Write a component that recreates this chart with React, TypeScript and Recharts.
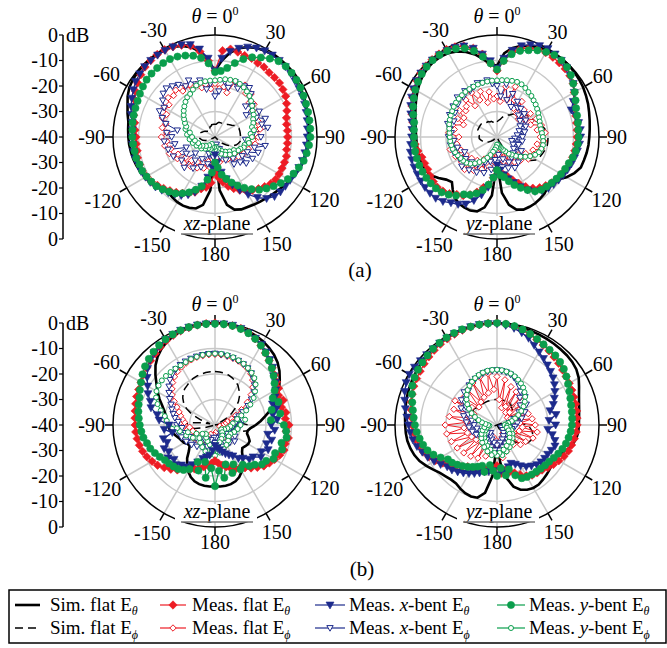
import React from 'react'
import { RadarChart, Radar, PolarGrid, PolarAngleAxis, PolarRadiusAxis } from 'recharts'

// theta in degrees, 0 at top, clockwise; 185..355 are -175..-5
const angles = [0, 5, 10, 15, 20, 25, 30, 35, 40, 45, 50, 55, 60, 65, 70, 75, 80, 85, 90, 95, 100, 105, 110, 115, 120, 125, 130, 135, 140, 145, 150, 155, 160, 165, 170, 175, 180, 185, 190, 195, 200, 205, 210, 215, 220, 225, 230, 235, 240, 245, 250, 255, 260, 265, 270, 275, 280, 285, 290, 295, 300, 305, 310, 315, 320, 325, 330, 335, 340, 345, 350, 355]
const spokes = [0, 30, 60, 90, 120, 150, 180, 210, 240, 270, 300, 330]
const dbLabels = ['0', '-10', '-20', '-30', '-40', '-30', '-20', '-10', '0']

// (a) xz-plane
const xzA_simT = [-14, -10, -6.5, -4, -2.5, -1.5, -1, -0.6, -0.5, -0.5, -0.7, -1, -1.3, -1.7, -2, -2.4, -2.7, -2.9, -3.1, -3.3, -3.6, -4, -4.5, -5.2, -6, -6.8, -7.6, -8.2, -8.7, -9.1, -9.4, -9.7, -9.8, -10.5, -13, -19, -34,
  -19, -13, -11, -10.5, -10.3, -10.5, -11, -11.5, -11, -10, -9.2, -8.5, -7.8, -7.2, -6.8, -6.5, -6.2, -6, -5.8, -5.5, -4.5, -3.5, -2.2, -1.2, -0.7, -0.4, -0.3, -0.3, -0.4, -0.6, -1, -2, -3.5, -6, -10]
const xzA_simP = [-35, -35, -34.5, -34, -34, -34, -34, -34, -33.5, -33, -32.5, -32, -31, -30.5, -30, -30, -30, -30, -30, -30, -30, -30.5, -31, -32, -33, -34.5, -36, -38, -40, -40, -40, -40, -40, -40, -40, -40, -40,
  -40, -40, -40, -40, -40, -40, -40, -40, -40, -40, -40, -39, -37.5, -36, -35, -34.5, -34, -34, -34, -34, -34, -34.5, -35, -35.5, -36, -36.5, -37, -37, -36.5, -36, -35.5, -35.5, -35, -35, -35]
const xzA_flatT = [-14, -6, -5, -5.5, -6, -6, -6.5, -6.5, -7, -7, -7, -7.5, -8, -9, -10, -11, -11.5, -11.5, -11.5, -11.5, -11.5, -11, -11, -11, -11, -11, -11.5, -12.5, -13.5, -14.5, -16, -17, -18.5, -20, -22, -24, -26,
  -22, -20, -19, -17, -15.5, -14.5, -13.5, -12.5, -11.5, -10.5, -9.5, -9, -8.5, -8.5, -8.5, -9, -9, -9, -8.5, -8, -7, -6, -5, -4, -3, -2, -1.2, -0.8, -0.5, -0.5, -1, -1.7, -3, -6, -10]
const xzA_flatP = [-19, -21, -20, -22, -17, -18, -16.5, -19, -18, -21, -20, -22, -21, -23, -22, -24, -22, -24, -23, -25, -24, -27, -26, -28, -27, -30, -28, -31, -29, -32, -30, -33, -31, -34, -30, -32, -30,
  -31, -28, -30, -27, -29, -26, -28, -25, -27, -24, -26, -23, -24, -21, -22, -20, -21, -19, -21, -19, -20, -18, -19, -17, -18, -16, -17, -16, -18, -17, -19, -18, -20, -19, -21]
const xzA_xT = [-14, -9, -6, -4, -2.5, -1.5, -1, -0.8, -0.8, -1, -1.3, -1.7, -2, -2.3, -2.6, -3, -3.3, -3.6, -3.8, -4, -4.2, -4.5, -5, -5.5, -6, -6.3, -6.5, -7, -8.5, -11, -14, -17, -20, -23, -26, -30, -33,
  -28, -24, -20, -17, -15, -13.5, -12.5, -11.5, -10.5, -9.5, -9, -8.5, -8, -8, -7.5, -7.5, -7.5, -7.5, -7.5, -7, -6, -5, -4, -3, -2, -1.5, -1, -0.8, -0.8, -0.8, -1, -1.5, -2.5, -5, -9]
const xzA_xP = [-24, -22, -18, -20, -17, -19, -17, -16.5, -18, -23, -21, -25, -20, -22, -19, -21, -19, -25, -22, -28, -20, -24, -22, -26, -23, -27, -24, -26, -29, -27, -33, -30, -35, -32, -37, -34, -36,
  -32, -35, -29, -33, -27, -30, -25, -28, -23, -30, -24, -27, -22, -28, -21, -24, -20, -23, -21, -25, -20, -18, -16, -17, -15, -13.5, -13, -14, -15, -17, -15.5, -18, -17, -21, -19]
const xzA_yT = [-14.5, -14, -12.5, -10, -7.5, -5.5, -4, -2.5, -1.2, -0.8, -0.8, -1, -1.3, -1.7, -2, -2.2, -2.4, -2.5, -2.6, -3, -3.5, -4, -5, -6, -7, -8.5, -10, -11.5, -13, -15, -17, -19, -21, -23, -25, -28, -30,
  -26, -23, -20, -18, -16, -14.5, -13, -12, -11, -10, -9.5, -9, -8.5, -8.5, -8, -8, -7.8, -7.6, -7.5, -7.2, -7, -6.8, -6.5, -6, -5.5, -5, -4.8, -4.7, -4.6, -4.7, -5.2, -6, -7, -8.5, -11]
const xzA_yP = [-17.8, -17.5, -17, -16.8, -16.6, -17, -17.5, -18.2, -19, -20, -21, -22, -22.5, -23.5, -24, -25, -24.5, -26, -25.5, -27, -26.5, -28, -28, -29, -29.5, -31, -30, -32, -31, -33, -32, -34, -33, -35, -34, -36, -35,
  -36, -34, -36, -35, -37, -35, -36, -34, -35, -33, -34, -33, -32, -33, -31, -32, -30, -31, -29, -30, -28, -28, -27, -26, -25, -24, -23, -22, -21, -20.5, -19.5, -18.5, -18, -17.8, -17.8]

// (a) yz-plane
const yzA_simT = [-12, -7, -4.5, -3, -2, -1.2, -0.6, -0.3, -0.2, -0.2, -0.4, -0.7, -1, -1.5, -2, -2.6, -3.1, -3.5, -3.8, -4, -4.3, -4.7, -5, -6.5, -8.5, -11, -12.5, -12, -11, -10.5, -10, -9.8, -9.7, -10.5, -13, -18, -30,
  -17, -12, -9.8, -9.3, -9.5, -10, -11, -13, -15, -14, -12, -10, -9, -8.8, -8.6, -8.5, -8.4, -8.3, -8, -7.5, -6.8, -6, -5, -4, -3, -2.2, -1.6, -1.4, -1.5, -2, -3, -4.5, -6.5, -9, -11.5]
const yzA_simP = [-34, -33.5, -33, -32, -31, -30.5, -30, -29, -28, -27, -26, -25.5, -25, -24, -23, -22, -21, -20.5, -20, -20, -20, -20.5, -21, -21.5, -22, -24, -26, -28.5, -31, -33.5, -36, -38, -40, -40, -40, -40, -40,
  -40, -40, -40, -40, -40, -40, -40, -40, -40, -38, -37, -36, -35, -34.5, -34, -33.5, -33, -33, -33, -32.5, -32.5, -32, -32, -32, -32, -32, -32.5, -32.5, -33, -33, -33.5, -33.5, -34, -34, -34]
const yzA_flatT = [-14, -10, -6, -4, -3, -2, -1.8, -1.8, -2, -2.2, -2.7, -3.5, -5, -6.5, -7.5, -8, -8.3, -8.5, -8.6, -8.8, -9, -9.3, -9.7, -10.2, -10.8, -11.2, -12, -13, -14, -15.5, -17.5, -20, -22, -24, -25, -26, -27,
  -24, -21, -19.5, -17, -15, -13.5, -12.5, -11, -10, -9.4, -9.5, -9.7, -10, -9.8, -9.5, -8.5, -7.8, -7.2, -7, -6.5, -5.5, -4.5, -3.5, -2.5, -1.7, -1, -0.6, -0.4, -0.3, -0.4, -1, -2, -4, -7, -11]
const yzA_flatP = [-24, -26, -20, -25, -19, -24, -27, -23, -28, -25, -29, -24, -27, -23, -26, -22, -24, -21, -23, -21.5, -24, -22, -25, -24, -27, -25, -29, -27, -31, -28, -33, -29, -34, -30, -35, -31, -34,
  -30, -34, -28, -32, -26, -30, -24, -28, -22, -27, -23, -26, -22, -25, -21, -24, -22, -25, -21, -23, -22, -26, -23, -25, -22, -24, -23, -21, -25, -20, -24, -21, -26, -22, -25]
const yzA_xT = [-13, -9, -5.5, -3, -1.5, -0.5, 0, -0.3, -0.8, -1.5, -2.5, -3.5, -5, -7, -9, -8, -7.5, -7.2, -7.2, -7.5, -8, -8.5, -9, -9.5, -10, -10.5, -11, -11.5, -12.5, -14, -16, -18.5, -21, -23, -25, -27, -29,
  -24, -20, -16.5, -13.5, -11, -9.5, -8.5, -7, -6, -5.7, -5.5, -5.5, -5.5, -5.4, -5.4, -5.5, -6, -6.5, -6.5, -6, -5, -4, -3, -2.2, -1.5, -1, -0.7, -0.6, -0.6, -0.8, -1.2, -2, -4, -7, -10]
const yzA_xP = [-20, -24, -19, -25, -22, -27, -24, -26, -25.5, -28, -26, -29, -27, -30, -28, -31, -29, -32, -30, -33, -30, -34, -31, -33, -29, -32, -28, -31, -27, -30, -26, -29, -27, -31, -28, -33, -30,
  -31, -27, -30, -25, -29, -24, -27, -23, -26, -22, -25, -23, -26, -22, -24, -21.5, -23, -21, -22, -21.3, -20, -22, -19.5, -21, -19, -20, -18, -19.5, -18, -19, -18.4, -17.5, -18, -17.4, -19]
const yzA_yT = [-13.5, -10, -7, -5, -3.8, -2.5, -1.5, -0.8, -0.7, -1.2, -2.2, -3.5, -4.8, -6, -7, -7.5, -7.8, -8, -8, -8.2, -8.6, -9.2, -10, -10.5, -11, -11.5, -12, -12.5, -13, -14, -16, -18, -20, -22, -24, -25, -27,
  -24, -21, -18.5, -16.5, -15, -14, -12, -10.5, -9.3, -8.7, -8.3, -8, -7.8, -7.6, -7.5, -7.4, -7.4, -7.4, -7.3, -7, -6, -5, -4, -3, -2.2, -1.5, -1, -0.7, -0.7, -1, -1.8, -3, -5, -8, -11]
const yzA_yP = [-17.8, -17.6, -17.4, -17.2, -17, -17.2, -17.8, -18.5, -19, -19.7, -20.2, -20.8, -21.3, -21.8, -22.2, -22.5, -22.5, -22.3, -22, -21.8, -21.7, -22, -22.5, -23.5, -25, -26.5, -28, -29.5, -31, -32, -33.5, -34.5, -35.5, -36, -36.5, -37, -37,
  -36, -35, -34, -32.5, -31, -29.5, -28, -26.5, -25.2, -24.3, -23.8, -23.5, -23, -22.5, -22, -21.8, -21.6, -21.5, -21.3, -21, -20.6, -20.3, -20, -19.7, -19.3, -19, -18.8, -18.6, -18.4, -18.3, -18.2, -18.1, -18, -17.9, -17.8]

// (b) xz-plane
const xzB_simT = [0, -0.1, -0.3, -0.6, -1, -1.5, -2.2, -3, -4, -5.3, -7, -9, -11, -13, -15, -17.5, -20, -22, -24, -26, -27, -27, -26, -25, -25, -25.5, -26, -25, -23, -21, -19, -17.5, -16.5, -16, -15.8, -15.8, -16,
  -15.8, -15.8, -16, -16.5, -17.5, -19, -21, -23, -25.5, -27, -27, -26, -25.5, -25, -24, -23, -22, -21.5, -21, -20.5, -19.5, -18, -16, -14, -12, -9.5, -7, -5, -3.5, -2.3, -1.5, -0.9, -0.5, -0.2, -0.1]
const xzB_simP = [-19, -19.1, -19.3, -19.7, -20.3, -21, -22, -23.5, -25, -27, -29.5, -32, -35, -38, -40, -40, -36, -30, -27, -26, -27, -30, -35, -40, -40, -40, -40, -40, -40, -40, -40, -40, -40, -40, -40, -40, -40,
  -40, -40, -40, -40, -40, -40, -40, -40, -40, -40, -40, -40, -40, -40, -36, -32, -29, -28, -30, -35, -38, -34, -30, -27, -25, -23.5, -22.3, -21.5, -21, -20.3, -19.8, -19.5, -19.3, -19.1, -19]
const xzB_flatT = [0, -0.3, -0.5, -0.8, -1.5, -2.7, -4, -5.5, -7, -8.3, -9.5, -10.5, -11.2, -12.5, -11.5, -13, -11.8, -12.3, -11, -12, -10.8, -11.5, -11.2, -12, -13, -14, -15, -16.5, -18, -19.5, -20.5, -21, -22, -23, -24, -25, -26,
  -25, -24, -23, -22, -21, -20, -19, -17, -15.5, -14, -12.5, -11.5, -10.5, -9.8, -9.3, -9, -8.8, -8.7, -8.5, -8.2, -7.8, -7.3, -7, -6.5, -5.7, -5, -4.3, -3.5, -2.6, -1.8, -1.2, -0.7, -0.4, -0.2, -0.1]
const xzB_flatP = [-12.3, -12.4, -12.6, -12.9, -13.3, -13.8, -14.5, -15.5, -17, -19, -21.5, -24.5, -28, -31, -33, -35, -33, -36, -34, -37, -35, -38, -35, -37, -34, -36, -33, -35, -32, -34, -31, -35, -32, -36, -33, -37, -34,
  -36, -33, -35, -32, -36, -33, -35, -32, -34, -31, -33, -30, -32, -30, -31, -29, -30, -28, -28, -27, -26, -25, -23.5, -21.5, -19.5, -18, -16.5, -15.3, -14.4, -13.7, -13.2, -12.8, -12.5, -12.4, -12.3]
const xzB_xT = [-0.3, -0.2, -0.3, -0.8, -1.5, -2.5, -3.5, -5, -6.5, -8, -10, -11, -12.5, -14, -16, -15, -17, -15.5, -18, -16.5, -19, -17, -18.5, -17, -19, -18, -20.5, -21, -23, -24, -26, -27, -28, -29, -30, -31, -32,
  -30, -28, -27, -26, -24, -22, -20, -19.5, -18, -19, -17.5, -19, -18, -20, -19, -23, -20, -22, -18, -17, -14, -13, -11, -9.5, -7.5, -5.5, -4, -3, -2, -1.3, -0.8, -0.5, -0.3, -0.2, -0.2]
const xzB_xP = [-12, -12.2, -12.5, -12.8, -13.2, -13.7, -14.3, -15.2, -16.5, -18, -20, -22.5, -25, -28, -30, -31, -29, -32, -30, -33, -31, -34, -32, -35, -31, -34, -30, -33, -31, -36, -32, -35, -31, -34, -32, -35, -33,
  -35, -32, -34, -31, -33, -30, -33, -29, -32, -28, -31, -27, -29, -26, -28, -25, -27, -25, -25.5, -24, -23, -22, -21, -19.5, -18, -16.5, -15, -14, -13.3, -12.8, -12.5, -12.3, -12.2, -12.1, -12]
const xzB_yT = [-0.3, -0.3, -0.5, -1, -1.7, -2.7, -4, -5.5, -7, -8.5, -10, -11.5, -13, -15, -13.5, -17, -14, -18, -13, -12, -11.5, -13, -12, -14, -13.5, -15.5, -16, -18, -19, -21, -20, -23, -20, -24, -19, -22, -16,
  -23, -19, -25, -21, -24, -20, -18.5, -17.5, -17, -16.5, -16, -15, -14, -13, -12.4, -11.5, -11, -10.5, -10, -9.5, -9, -8.5, -7.5, -6.5, -5.3, -4.2, -3.3, -2.5, -1.8, -1.2, -0.8, -0.5, -0.3, -0.2, -0.2]
const xzB_yP = [-12, -12, -12.2, -12.5, -13, -13.5, -14.2, -15, -16, -17.5, -19.5, -21.5, -24, -26.5, -29, -31, -28, -33, -30, -34, -31, -35, -32, -36, -33, -37, -33, -36, -32, -35, -31, -34, -30, -33, -29, -32, -28,
  -31, -28, -32, -29, -33, -30, -34, -31, -35, -32, -34, -30, -32, -28, -29, -26, -25, -22, -21, -20, -18, -16, -14.5, -13.5, -13, -12.8, -12.8, -12.9, -13, -13, -12.8, -12.5, -12.3, -12.1, -12]

// (b) yz-plane
const yzB_simT = [0, -0.1, -0.3, -0.5, -0.7, -0.9, -1, -1.1, -1.2, -1.3, -1.5, -2, -3, -4.5, -5.8, -6.7, -7.3, -7.7, -7.9, -8, -8.5, -9.5, -11, -13, -14, -13.5, -13, -12.5, -12, -11.5, -11.5, -12, -13, -15, -19, -25, -33,
  -20, -13, -10.5, -10.2, -10.5, -11.2, -12, -12, -11.5, -10.8, -9.5, -8, -6.5, -5.5, -4.8, -4.3, -4.1, -4, -3.8, -3.5, -3.2, -2.8, -2.5, -2.2, -1.9, -1.6, -1.3, -1, -0.8, -0.6, -0.4, -0.3, -0.2, -0.1, 0]
const yzB_simP = [-30, -30, -30, -30, -30, -30, -30, -30.5, -31, -31.5, -32, -33, -34, -36, -38, -40, -35, -31, -28, -27, -26, -25.5, -25, -25.5, -26, -27.5, -29, -31, -33, -35, -38, -40, -40, -40, -40, -40, -40,
  -40, -40, -40, -40, -40, -40, -40, -40, -40, -40, -40, -40, -40, -38, -36, -35, -34, -33.5, -33, -32, -31, -30, -29.5, -29, -29, -29.5, -30, -30, -30, -30, -30, -30, -30, -30, -30]
const yzB_flatT = [0, -0.3, -0.8, -1.5, -2.3, -3.1, -3.8, -4.5, -5.2, -5.8, -6.4, -6.9, -7.3, -7.6, -7.9, -8.1, -8.3, -8.5, -8.6, -8.8, -9.2, -9.7, -10.2, -11, -12, -13, -14, -15, -15.5, -16, -17, -18.5, -20, -21, -22, -21, -24,
  -22, -23, -22, -21.5, -21, -20.5, -20, -18.5, -17, -15.5, -14, -12.2, -10.5, -9.2, -8.4, -7.6, -7, -6.6, -6.3, -5.8, -5.2, -4.6, -4, -3.6, -3.2, -2.7, -2.2, -1.7, -1.3, -1, -0.7, -0.4, -0.2, -0.1, 0]
const yzB_flatP = [-21, -30, -22, -33, -24, -32, -25, -34, -26, -33, -28, -35, -29, -34, -27, -33, -26, -31, -25, -30, -24, -31, -25, -33, -27, -34, -28, -35, -30, -36, -31, -35, -29, -34, -27, -33, -28,
  -34, -29, -35, -27, -33, -25, -32, -24, -31, -23, -30, -22, -29, -21, -28, -20, -27, -19.7, -28, -21, -29, -22, -30, -21, -28, -23, -30, -22, -29, -21, -28, -20, -27, -19.5, -26]
const yzB_xT = [-0.3, -0.8, -1.5, -2.5, -3.8, -5.5, -7, -8.2, -9.3, -10.3, -11.3, -12.5, -13.8, -15.2, -16.5, -18.5, -16.5, -19.5, -17, -20, -18, -16.5, -15.8, -16.5, -17, -17.2, -17.5, -18, -19, -20, -21.5, -23, -24, -23, -21, -22, -20.5,
  -22, -21.5, -21, -20, -19, -18, -17, -16, -15, -14.5, -13, -11.5, -10, -8.8, -7.5, -6.5, -5.8, -5.3, -4.5, -3.5, -2.5, -1.5, -0.7, -0.3, -0.5, -0.8, -1, -1, -0.8, -0.6, -0.4, -0.2, -0.1, 0, -0.1]
const yzB_xP = [-18.5, -18.7, -19, -19.5, -20.3, -21.3, -22.5, -24, -26, -24.5, -28, -26, -30, -28, -33, -30, -35, -32, -36, -33, -37, -34, -37, -35, -38, -35, -37, -34, -36, -33, -35, -32, -34, -31, -33, -30, -32,
  -30, -33, -31, -34, -32, -35, -33, -36, -33, -35, -32, -34, -31, -33, -30, -32, -29, -31, -28, -30, -26.5, -28, -24.5, -26, -23, -24, -21.8, -22.5, -21, -20.5, -20, -19.5, -19, -18.8, -18.6]
const yzB_yT = [0, -0.2, -0.6, -1.2, -2, -2.8, -3.5, -4, -4.4, -5, -5.8, -6.8, -7.8, -8.7, -9.4, -9.9, -10.2, -10.4, -10.6, -11, -11.5, -12, -12.7, -13.5, -14.3, -15, -15.4, -15.8, -16.1, -16.3, -16.5, -17, -19, -22, -20, -23, -20,
  -22, -24, -21, -23, -22, -21, -20, -19, -18, -17, -16.5, -14.5, -12.5, -11, -10, -9.2, -8.4, -7.8, -7.2, -6.5, -5.6, -4.5, -3.4, -2.7, -2.2, -1.8, -1.4, -1, -0.7, -0.4, -0.2, -0.1, -0.1, 0, 0]
const yzB_yP = [-18.3, -18.4, -18.7, -19.1, -19.7, -20.4, -21.2, -22.1, -23.2, -24.4, -25.8, -27.3, -29, -30.8, -32.5, -34, -35.5, -36.5, -37, -36, -35, -36, -34, -35, -33, -34, -32, -33, -31, -32, -30, -31, -29, -30, -28, -29, -28,
  -29, -28, -30, -29, -31, -30, -32, -31, -33, -32, -34, -33, -35, -34, -36, -35, -37, -36.5, -35.5, -34, -32.5, -30.8, -29, -27.3, -25.8, -24.4, -23.2, -22.1, -21.2, -20.4, -19.7, -19.1, -18.7, -18.4, -18.3]

const RED = '#ed1c24'
const BLUE = '#1c2a8c'
const GREEN = '#0a9e4c'
const GRID = '#c8c8c8'
const SERIF = 'Liberation Serif, Tinos, DejaVu Serif, Times New Roman, serif'
const R = 102

const buildRows = (s: any) => angles.map((a, i) => ({
  ang: a,
  simT: s.simT[i], simP: s.simP[i],
  flatT: s.flatT[i], flatP: s.flatP[i],
  xT: s.xT[i], xP: s.xP[i],
  yT: s.yT[i], yP: s.yP[i],
}))

const rowsXzA = buildRows({ simT: xzA_simT, simP: xzA_simP, flatT: xzA_flatT, flatP: xzA_flatP, xT: xzA_xT, xP: xzA_xP, yT: xzA_yT, yP: xzA_yP })
const rowsYzA = buildRows({ simT: yzA_simT, simP: yzA_simP, flatT: yzA_flatT, flatP: yzA_flatP, xT: yzA_xT, xP: yzA_xP, yT: yzA_yT, yP: yzA_yP })
const rowsXzB = buildRows({ simT: xzB_simT, simP: xzB_simP, flatT: xzB_flatT, flatP: xzB_flatP, xT: xzB_xT, xP: xzB_xP, yT: xzB_yT, yP: xzB_yP })
const rowsYzB = buildRows({ simT: yzB_simT, simP: yzB_simP, flatT: yzB_flatT, flatP: yzB_flatP, xT: yzB_xT, xP: yzB_xP, yT: yzB_yT, yP: yzB_yP })

// markers
const fDiamond = (p: any) => {
  const { cx, cy, index } = p
  const s = 4.2
  return <polygon key={'fd' + index} points={`${cx},${cy - s} ${cx + s},${cy} ${cx},${cy + s} ${cx - s},${cy}`} fill={RED} stroke={RED} strokeWidth={0.6} />
}
const oDiamond = (p: any) => {
  const { cx, cy, index } = p
  const s = 3.2
  return <polygon key={'od' + index} points={`${cx},${cy - s} ${cx + s},${cy} ${cx},${cy + s} ${cx - s},${cy}`} fill="#fff" stroke={RED} strokeWidth={1} />
}
const fTri = (p: any) => {
  const { cx, cy, index } = p
  return <polygon key={'ft' + index} points={`${cx - 4},${cy - 3} ${cx + 4},${cy - 3} ${cx},${cy + 4}`} fill={BLUE} stroke={BLUE} strokeWidth={0.6} />
}
const oTri = (p: any) => {
  const { cx, cy, index } = p
  return <polygon key={'ot' + index} points={`${cx - 3.2},${cy - 2.4} ${cx + 3.2},${cy - 2.4} ${cx},${cy + 3.2}`} fill="#fff" stroke={BLUE} strokeWidth={1} />
}
const fCirc = (p: any) => <circle key={'fc' + p.index} cx={p.cx} cy={p.cy} r={3.6} fill={GREEN} stroke={GREEN} strokeWidth={0.6} />
const oCirc = (p: any) => <circle key={'oc' + p.index} cx={p.cx} cy={p.cy} r={2.5} fill="#fff" stroke={GREEN} strokeWidth={1} />

const series = [
  { key: 'simT', color: '#000', w: 2.6, dash: undefined, dot: false },
  { key: 'simP', color: '#000', w: 1.5, dash: '8 5', dot: false },
  { key: 'flatP', color: RED, w: 1, dash: undefined, dot: oDiamond },
  { key: 'xP', color: BLUE, w: 1, dash: undefined, dot: oTri },
  { key: 'yP', color: GREEN, w: 1, dash: undefined, dot: oCirc },
  { key: 'flatT', color: RED, w: 1.3, dash: undefined, dot: fDiamond },
  { key: 'xT', color: BLUE, w: 1.3, dash: undefined, dot: fTri },
  { key: 'yT', color: GREEN, w: 1.3, dash: undefined, dot: fCirc },
]

const angleTick = (cx: number, cy: number) => (props: any) => {
  const v = Number(props.payload.value)
  if (v % 30 !== 0) return <g key={'t' + v} />
  const t = (v * Math.PI) / 180
  const sx = Math.sin(t)
  const sy = -Math.cos(t)
  const tick = <line x1={cx + sx * R} y1={cy + sy * R} x2={cx + sx * (R + 8)} y2={cy + sy * (R + 8)} stroke="#000" strokeWidth={1.5} />
  if (v === 0) {
    return (
      <g key="t0">
        {tick}
        <text x={cx} y={cy - 121} dy="0.33em" textAnchor="middle" fontFamily={SERIF} fontSize={20} fill="#000">
          <tspan fontStyle="italic" fill="#000">θ</tspan> = 0<tspan fontSize={12} dy={-8} fill="#000">0</tspan>
        </text>
      </g>
    )
  }
  const lab = String(v <= 180 ? v : v - 360)
  const hw = (lab.replace('-', '').length * 10 + (lab.startsWith('-') ? 6.7 : 0)) / 2
  const rl = 110 + hw * Math.abs(sx) + 7 * Math.abs(sy)
  return (
    <g key={'t' + v}>
      {tick}
      <text x={cx + sx * rl} y={cy + sy * rl} dy="0.33em" textAnchor="middle" fontFamily={SERIF} fontSize={20} fill="#000">{lab}</text>
    </g>
  )
}

const PolarPlot = ({ x, y, rows }: any) => {
  const W = 340
  const H = 300
  const cx = 170
  const cy = 150
  return (
    <div style={{ position: 'absolute', left: x - cx, top: y - cy }}>
      <RadarChart width={W} height={H} data={rows} cx={cx} cy={cy} innerRadius={0} outerRadius={R} startAngle={90} endAngle={-270} margin={{ top: 0, right: 0, bottom: 0, left: 0 }}>
        <PolarGrid gridType="circle" polarRadius={[R * 0.25, R * 0.5, R * 0.75]} polarAngles={spokes} stroke={GRID} strokeWidth={1.5} />
        <PolarAngleAxis dataKey="ang" axisLineType="circle" axisLine={{ stroke: '#000', strokeWidth: 1.5 }} tickLine={false} tick={angleTick(cx, cy)} />
        <PolarRadiusAxis domain={[-40, 0]} tick={false} axisLine={false} />
        {series.map((s) => (
          <Radar key={s.key} dataKey={s.key} stroke={s.color} strokeWidth={s.w} strokeDasharray={s.dash} fill="none" fillOpacity={0}
            dot={s.dot as any} activeDot={false} isAnimationActive={false} />
        ))}
      </RadarChart>
    </div>
  )
}

const DbAxis = ({ cy }: { cy: number }) => (
  <g>
    <line x1={63} y1={cy - R} x2={63} y2={cy + R} stroke="#000" strokeWidth={1.5} />
    {dbLabels.map((lab, k) => {
      const yy = cy - R + (k * R) / 4
      return (
        <g key={k}>
          <line x1={59} y1={yy} x2={63} y2={yy} stroke="#000" strokeWidth={1.2} />
          <text x={58} y={yy} dy="0.33em" textAnchor="end" fontSize={20} fill="#000">{lab}</text>
        </g>
      )
    })}
    <text x={66} y={cy - R} dy="0.33em" fontSize={20} fill="#000">dB</text>
  </g>
)

const PlaneLabel = ({ cx, cy, axes }: any) => (
  <g>
    <rect x={cx - 40} y={cy + 79} width={82} height={18} fill="#fff" />
    <text x={cx + 2} y={cy + 93} textAnchor="middle" fontSize={20} fill="#000">
      <tspan fontStyle="italic" fill="#000">{axes}</tspan>-plane
    </text>
    <line x1={cx - 34} y1={cy + 97} x2={cx + 38} y2={cy + 97} stroke="#777" strokeWidth={1.5} />
  </g>
)

const legendCols = [
  { x1: 15, x2: 40, tx: 50, color: '#000', fill: null, open: null, name: 'Sim. flat E', it: '' },
  { x1: 160, x2: 186, tx: 192, color: RED, fill: fDiamond, open: oDiamond, name: 'Meas. flat E', it: '' },
  { x1: 315, x2: 345, tx: 349, color: BLUE, fill: fTri, open: oTri, name: 'Meas. ', it: 'x' },
  { x1: 497, x2: 525, tx: 529, color: GREEN, fill: fCirc, open: oCirc, name: 'Meas. ', it: 'y' },
]

const Legend2 = () => (
  <g>
    <rect x={9} y={590} width={657} height={53} fill="none" stroke="#000" strokeWidth={1.5} />
    {legendCols.map((c, i) => (
      <g key={i}>
        {[0, 1].map((row) => {
          const ly = row === 0 ? 605 : 628
          const ty = row === 0 ? 611 : 634
          const mx = (c.x1 + c.x2) / 2
          const dash = i === 0 && row === 1 ? '8 5' : undefined
          const mk = row === 0 ? c.fill : c.open
          return (
            <g key={row}>
              <line x1={c.x1} y1={ly} x2={c.x2} y2={ly} stroke={c.color} strokeWidth={i === 0 ? (row === 0 ? 2.6 : 1.5) : 1.2} strokeDasharray={dash} />
              {mk ? mk({ cx: mx, cy: ly, index: 'lg' + i + row }) : null}
              <text x={c.tx} y={ty} fontSize={19} fill="#000">
                {c.it ? (<>Meas. <tspan fontStyle="italic" fill="#000">{c.it}</tspan>-bent E</>) : c.name}
                <tspan fontSize={12} fontStyle="italic" fill="#000" dy={row === 0 ? 4 : 5}>{row === 0 ? 'θ' : 'ϕ'}</tspan>
              </text>
            </g>
          )
        })}
      </g>
    ))}
  </g>
)

export default function App() {
  return (
    <div style={{ position: 'absolute', left: 0, top: 0, width: 667, height: 648, background: '#fff', overflow: 'hidden', fontFamily: SERIF }}>
      <PolarPlot x={215} y={137} rows={rowsXzA} />
      <PolarPlot x={497} y={137} rows={rowsYzA} />
      <PolarPlot x={215} y={425} rows={rowsXzB} />
      <PolarPlot x={497} y={425} rows={rowsYzB} />
      <svg width={667} height={648} style={{ position: 'absolute', left: 0, top: 0, pointerEvents: 'none', fontFamily: SERIF }} fill="#000">
        <DbAxis cy={137} />
        <DbAxis cy={425} />
        <PlaneLabel cx={215} cy={137} axes="xz" />
        <PlaneLabel cx={497} cy={137} axes="yz" />
        <PlaneLabel cx={215} cy={425} axes="xz" />
        <PlaneLabel cx={497} cy={425} axes="yz" />
        <text x={360} y={277} textAnchor="middle" fontSize={21} fill="#000">(a)</text>
        <text x={362} y={576} textAnchor="middle" fontSize={21} fill="#000">(b)</text>
        <Legend2 />
      </svg>
    </div>
  )
}
